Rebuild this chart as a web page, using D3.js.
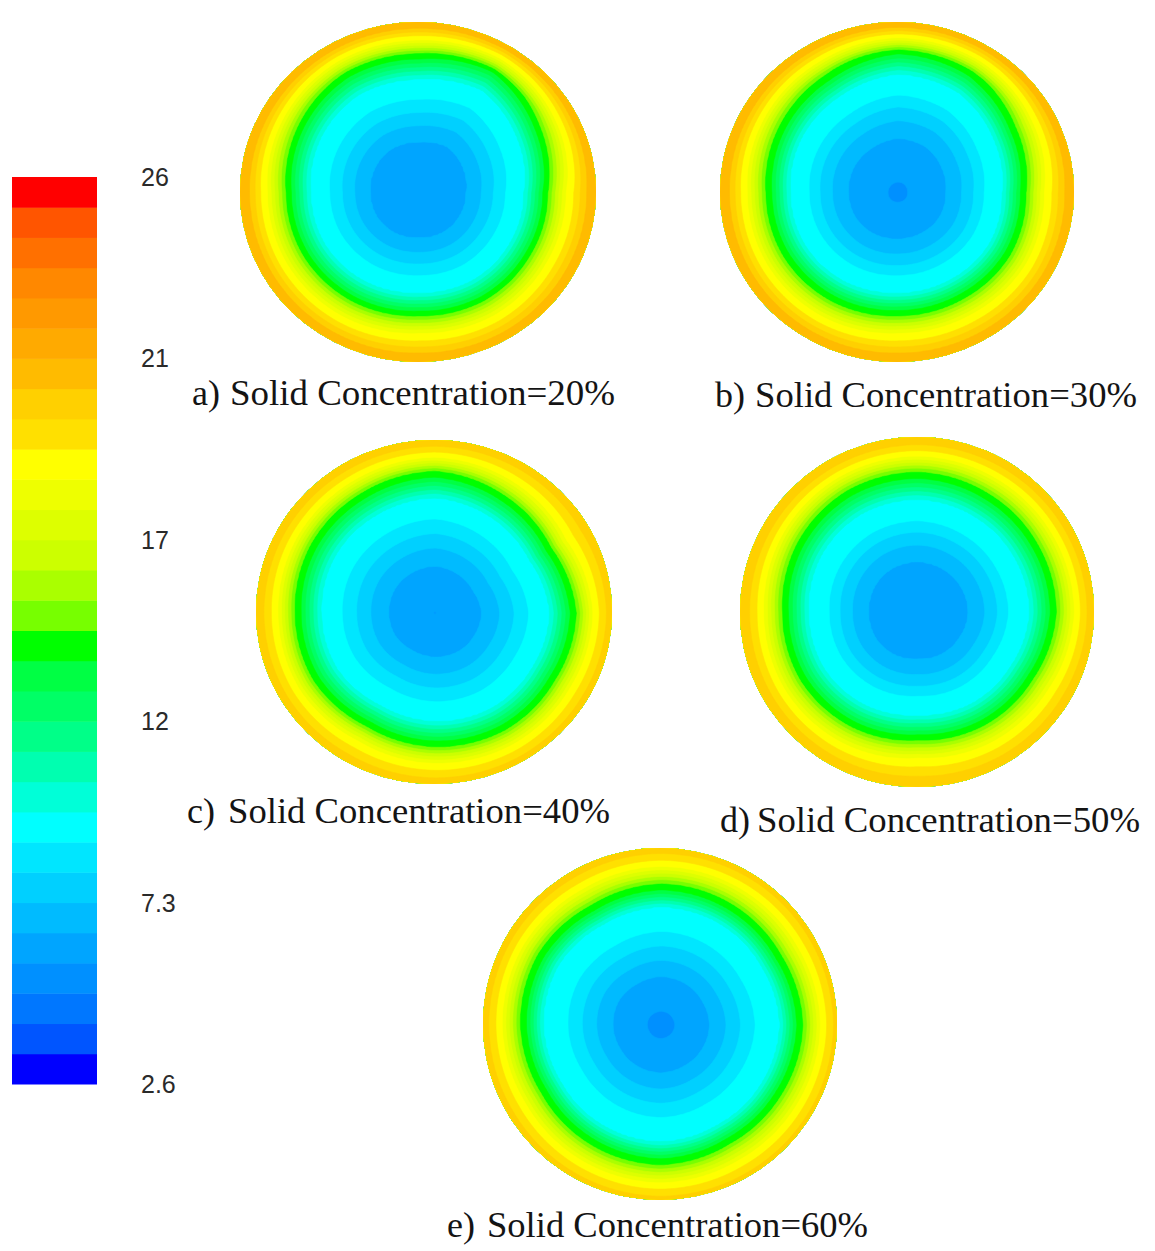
<!DOCTYPE html>
<html>
<head>
<meta charset="utf-8">
<script src="https://cdn.jsdelivr.net/npm/d3@7"></script>
<style>
body{margin:0;background:#fff;}
svg{display:block;}
</style>
</head>
<body>
<svg width="1155" height="1251"></svg>
<script>
// colour legend: 30 bands from low (blue) to high (red)
const vMin = 2.6;
const vMax = 26;
const bandColors = [
	'#0000ff','#0055ff','#0077ff','#0090ff','#00a5ff','#00bbff','#00d0ff','#00e6ff','#00ffff','#00ffd8',
	'#00ffb0','#00ff88','#00ff66','#00ff44','#00ff00','#77ff00','#aaff00','#ccff00','#ddff00','#eeff00',
	'#ffff00','#ffe000','#ffd000','#ffbb00','#ffaa00','#ff9900','#ff8800','#ff7000','#ff5500','#ff0000'
];
const tickValues = [26, 21.32, 16.64, 11.96, 7.28, 2.6];
const tickLabels = ['26', '21', '17', '12', '7.3', '2.6'];

// panel captions
const panelLetters = ['a)', 'b)', 'c)', 'd)', 'e)'];
const panelCaptions = ['Solid Concentration=20%', 'Solid Concentration=30%', 'Solid Concentration=40%',
	'Solid Concentration=50%', 'Solid Concentration=60%'];

// radial profiles: [normalised radius, value]
const profileA = [[0, 6.0], [0.275, 6.5], [0.36, 7.28], [0.43, 8.06], [0.5, 8.84], [0.61, 9.62], [0.715, 13.5], [0.75, 14.3], [0.85, 18.2], [0.89, 19], [0.92, 19.76], [0.95, 20.54], [1, 21.1]];
const profileB = [[0, 5.3], [0.08, 5.9], [0.28, 6.5], [0.37, 7.28], [0.44, 8.06], [0.5, 8.84], [0.61, 9.62], [0.71, 13.5], [0.75, 14.3], [0.85, 18.2], [0.89, 19], [0.92, 19.76], [0.95, 20.54], [1, 21.1]];
const profileC = [[0, 5.7], [0.26, 6.5], [0.36, 7.28], [0.44, 8.06], [0.52, 8.84], [0.64, 9.62], [0.75, 13.5], [0.79, 14.3], [0.88, 18.2], [0.92, 19], [0.96, 19.76], [1, 20.3]];
const profileD = [[0, 6.0], [0.28, 6.5], [0.37, 7.28], [0.44, 8.06], [0.5, 8.84], [0.62, 9.62], [0.73, 13.5], [0.77, 14.3], [0.87, 18.2], [0.91, 19], [0.95, 19.76], [1, 20.4]];
const profileE = [[0, 5.3], [0.1, 5.85], [0.27, 6.5], [0.36, 7.28], [0.44, 8.06], [0.52, 8.84], [0.66, 9.62], [0.75, 13.5], [0.79, 14.3], [0.89, 18.2], [0.93, 19], [0.97, 19.76], [1, 20.1]];

// contour stretch every 30 degrees (0 = right, clockwise)
const shapeA = [0.97, 0.97, 0.98, 0.97, 0.99, 1.0, 1.0, 1.05, 1.1, 1.1, 1.15, 1.05];
const shapeB = [0.97, 0.98, 0.97, 0.97, 0.99, 1.0, 1.0, 1.04, 1.08, 1.15, 1.12, 1.03];
const shapeC = [1.01, 0.99, 1.0, 0.99, 0.97, 1.0, 1.0, 1.02, 1.03, 1.05, 1.0, 0.96];
const shapeD = [1.02, 0.98, 0.97, 0.95, 0.98, 1.0, 1.0, 1.03, 1.05, 1.05, 1.03, 1.02];
const shapeE = [1.02, 1.0, 0.99, 1.01, 1.0, 0.99, 1.01, 1.02, 1.0, 1.02, 1.01, 1.0];

// layout of each panel (centre, radii, caption placement)
const layout = [
	{cx: 418, cy: 192, rx: 178, ry: 170, lx: 192, tx: 230, ty: 405, tw: 385},
	{cx: 897, cy: 192, rx: 177, ry: 170, lx: 715, tx: 755, ty: 407, tw: 382},
	{cx: 434, cy: 612, rx: 178, ry: 172, lx: 187, tx: 228, ty: 823, tw: 382},
	{cx: 917, cy: 612, rx: 177, ry: 175, lx: 720, tx: 757, ty: 832, tw: 383},
	{cx: 660, cy: 1024, rx: 177, ry: 176, lx: 447, tx: 487, ty: 1237, tw: 381}
];
const profiles = [profileA, profileB, profileC, profileD, profileE];
const shapes = [shapeA, shapeB, shapeC, shapeD, shapeE];

const svg = d3.select('svg');
const color = d3.scaleQuantize().domain([vMin, vMax]).range(bandColors);
const thresholds = [vMin].concat(color.thresholds());
const step = 2;

// legend
const legend = {x: 12, w: 85, top: 177, bottom: 1084};
const yLegend = d3.scaleLinear().domain([vMin, vMax]).range([legend.bottom, legend.top]);
const bands = bandColors.map((c, i) => ({c: c, lo: thresholds[i], hi: i < 29 ? thresholds[i + 1] : vMax}));

svg.append('g').selectAll('rect')
	.data(bands).enter().append('rect')
	.attr('x', legend.x).attr('width', legend.w)
	.attr('y', d => yLegend(d.hi)).attr('height', d => yLegend(d.lo) - yLegend(d.hi) + 0.5)
	.style('fill', d => d.c);

svg.append('g').selectAll('text')
	.data(tickValues).enter().append('text')
	.attr('x', 141).attr('y', d => yLegend(d) + 9)
	.style('font-family', '"Liberation Sans", Arial, sans-serif')
	.style('font-size', '25px').style('fill', '#2a2a2a')
	.text((d, i) => tickLabels[i]);

function drawPanel(k){
	const lay = layout[k];
	const prof = profiles[k];
	const rScale = d3.scaleLinear().domain(prof.map(d => d[0])).range(prof.map(d => d[1])).clamp(true);
	const aScale = d3.scaleLinear().domain(d3.range(13).map(i => i * 30)).range(shapes[k].concat([shapes[k][0]]));

	const x0 = lay.cx - lay.rx - 2 * step;
	const y0 = lay.cy - lay.ry - 2 * step;
	const nx = Math.ceil(2 * lay.rx / step) + 5;
	const ny = Math.ceil(2 * lay.ry / step) + 5;
	const values = new Array(nx * ny);
	for(var j = 0; j < ny; j++){
		for(var i = 0; i < nx; i++){
			var u = (x0 + i * step - lay.cx) / lay.rx;
			var v = (y0 + j * step - lay.cy) / lay.ry;
			var r = Math.sqrt(u * u + v * v);
			var ang = (Math.atan2(v, u) * 180 / Math.PI + 360) % 360;
			var s = aScale(ang);
			var w = r < 0.82 ? 1 : Math.max(0, (1 - r) / 0.18);
			values[j * nx + i] = rScale(r / (1 + (s - 1) * w));
		}
	}

	const clipId = 'clip' + k;
	svg.append('clipPath').attr('id', clipId)
		.append('ellipse').attr('cx', lay.cx).attr('cy', lay.cy).attr('rx', lay.rx).attr('ry', lay.ry);

	const contours = d3.contours().size([nx, ny]).thresholds(thresholds)(values);
	const path = d3.geoPath(d3.geoIdentity().scale(step).translate([x0, y0]));

	svg.append('g').attr('clip-path', 'url(#' + clipId + ')')
		.selectAll('path').data(contours).enter().append('path')
		.attr('d', path)
		.style('fill', d => color(d.value + 0.01))
		.style('stroke', d => color(d.value + 0.01)).style('stroke-width', 0.6);

	const cap = svg.append('g')
		.style('font-family', '"Liberation Serif", "Times New Roman", serif')
		.style('font-size', '36px').style('fill', '#141414');
	cap.append('text').attr('x', lay.lx).attr('y', lay.ty).text(panelLetters[k]);
	cap.append('text').attr('x', lay.tx).attr('y', lay.ty)
		.attr('textLength', lay.tw).attr('lengthAdjust', 'spacingAndGlyphs')
		.text(panelCaptions[k]);
}

for(var k = 0; k < layout.length; k++){
	drawPanel(k);
}
</script>
</body>
</html>
